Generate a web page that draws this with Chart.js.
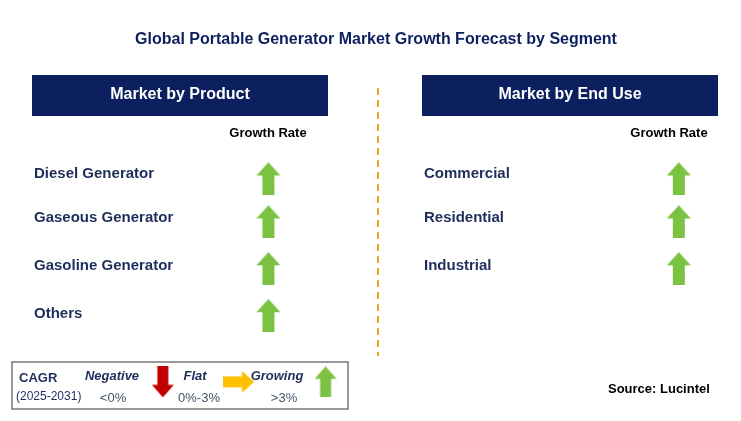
<!DOCTYPE html>
<html>
<head>
<meta charset="utf-8">
<script src="https://cdn.jsdelivr.net/npm/chart.js@4"></script>
<style>
  html, body { margin: 0; padding: 0; background: #fff; }
  #wrap { width: 741px; height: 421px; }
</style>
</head>
<body>
<div id="wrap"><canvas id="c"></canvas></div>
<script>
const title = 'Global Portable Generator Market Growth Forecast by Segment'
const productSegments = ['Diesel Generator', 'Gaseous Generator', 'Gasoline Generator', 'Others']
const productTrend = ['up', 'up', 'up', 'up']
const endUseSegments = ['Commercial', 'Residential', 'Industrial']
const endUseTrend = ['up', 'up', 'up']
const legendItems = [
  { name: 'Negative', range: '<0%', trend: 'down' },
  { name: 'Flat', range: '0%-3%', trend: 'right' },
  { name: 'Growing', range: '>3%', trend: 'up' }
]

const NAVY = '#0c1f5e'
const TEXT = '#1f2d5a'
const colors = { up: '#7cc242', down: '#c00000', right: '#ffc000' }

// draw an arrow sprite once per direction
function arrowCanvas(dir, w, h) {
  const c = document.createElement('canvas')
  c.width = dir === 'right' ? h : w
  c.height = dir === 'right' ? w : h
  const g = c.getContext('2d')
  g.save()
  if (dir === 'down') { g.translate(w, h); g.rotate(Math.PI) }
  if (dir === 'right') { g.translate(h, 0); g.rotate(Math.PI / 2) }
  const s = w / 4, head = h * 0.4
  g.beginPath()
  g.moveTo(w / 2, 0)
  g.lineTo(w, head)
  g.lineTo(w - s, head)
  g.lineTo(w - s, h)
  g.lineTo(s, h)
  g.lineTo(s, head)
  g.lineTo(0, head)
  g.closePath()
  g.fillStyle = colors[dir]
  g.fill()
  g.restore()
  return c
}
const bigArrows = { up: arrowCanvas('up', 24, 33) }
const smallArrows = { up: arrowCanvas('up', 22, 31), down: arrowCanvas('down', 22, 31), right: arrowCanvas('right', 22, 31) }

// first row sits a little higher apart from the rest
const rowY = (i) => (i === 0 ? 178 : 174 + i * 48)

const datasets = [
  {
    data: productSegments.map((name, i) => ({ x: 267, y: rowY(i), label: name })),
    pointStyle: productTrend.map((t) => bigArrows[t])
  },
  {
    data: endUseSegments.map((name, i) => ({ x: 683, y: rowY(i), label: name })),
    pointStyle: endUseTrend.map((t) => bigArrows[t])
  },
  {
    data: legendItems.map((it, i) => ({ x: [160, 237, 325][i], y: 386, label: it.name })),
    pointStyle: legendItems.map((it) => smallArrows[it.trend])
  }
]

const decor = {
  id: 'decor',
  beforeDatasetsDraw(chart) {
    const g = chart.ctx
    g.save()
    g.textBaseline = 'middle'
    g.fillStyle = NAVY
    g.font = 'bold 16px "Liberation Sans", Arial'
    g.textAlign = 'center'
    g.fillText(title, 376, 40)

    // panel headers
    const headers = [['Market by Product', 32], ['Market by End Use', 422]]
    headers.forEach(([t, x]) => {
      g.fillStyle = NAVY
      g.fillRect(x, 75, 296, 41)
      g.fillStyle = '#fff'
      g.font = 'bold 16px "Liberation Sans", Arial'
      g.fillText(t, x + 148, 95)
    })
    g.fillStyle = '#000'
    g.font = 'bold 13px "Liberation Sans", Arial'
    g.fillText('Growth Rate', 268, 133)
    g.fillText('Growth Rate', 669, 133)

    // segment names
    g.textAlign = 'left'
    g.fillStyle = TEXT
    g.font = 'bold 15px "Liberation Sans", Arial'
    productSegments.forEach((s, i) => g.fillText(s, 34, rowY(i) - 4))
    endUseSegments.forEach((s, i) => g.fillText(s, 424, rowY(i) - 4))

    // divider
    g.strokeStyle = '#f2a81d'
    g.lineWidth = 2
    g.setLineDash([7, 5])
    g.beginPath()
    g.moveTo(378, 88)
    g.lineTo(378, 356)
    g.stroke()
    g.setLineDash([])

    // legend box
    g.strokeStyle = '#777'
    g.lineWidth = 1.5
    g.strokeRect(12, 362, 336, 47)
    g.fillStyle = TEXT
    g.font = 'bold 13px "Liberation Sans", Arial'
    g.fillText('CAGR', 19, 378)
    g.font = '12px "Liberation Sans", Arial'
    g.fillText('(2025-2031)', 16, 397)
    g.textAlign = 'center'
    const nameX = [112, 195, 277], rangeX = [113, 199, 284]
    legendItems.forEach((it, i) => {
      g.fillStyle = TEXT
      g.font = 'italic bold 13px "Liberation Sans", Arial'
      g.fillText(it.name, nameX[i], 376)
      g.font = '13px "Liberation Sans", Arial'
      g.fillStyle = '#44546a'
      g.fillText(it.range, rangeX[i], 398)
    })

    g.textAlign = 'left'
    g.fillStyle = '#000'
    g.font = 'bold 13px "Liberation Sans", Arial'
    g.fillText('Source: Lucintel', 608, 389)
    g.restore()
  }
}

new Chart(document.getElementById('c'), {
  type: 'scatter',
  data: { datasets },
  plugins: [decor],
  options: {
    responsive: true,
    maintainAspectRatio: false,
    animation: false,
    layout: { padding: 0 },
    scales: {
      x: { display: false, min: 0, max: 741 },
      y: { display: false, min: 0, max: 421, reverse: true }
    },
    plugins: { legend: { display: false }, tooltip: { enabled: false } }
  }
})
</script>
</body>
</html>
